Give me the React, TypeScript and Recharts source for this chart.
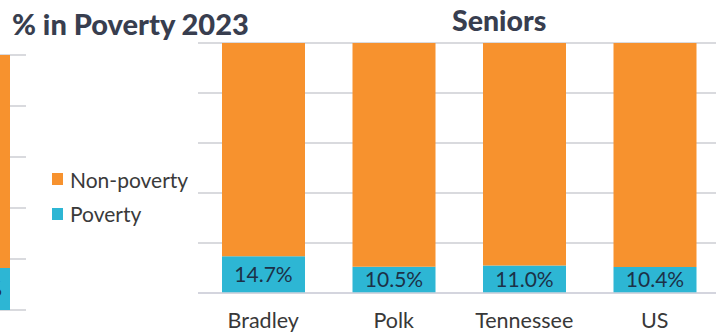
import React from "react";
import { BarChart, Bar, XAxis, YAxis, CartesianGrid, LabelList, Legend } from "recharts";

// Seniors panel
const places = ["Bradley", "Polk", "Tennessee", "US"];
const povertyPct = [14.7, 10.5, 11.0, 10.4];
const nonPovertyPct = [85.3, 89.5, 89.0, 89.6];
const pctTicks = [0, 20, 40, 60, 80, 100];
const legendOrder = ["Non-poverty", "Poverty"];

// neighbouring panel, only its right edge is in frame
const prevPlaces = ["US"];
const prevPovertyPct = [16.5];
const prevNonPovertyPct = [83.5];

const ORANGE = "#F7922E";
const TEAL = "#2DB6D4";
const GRID = "#cdced3";
const INK = "#383e4f";
const FONT = "Lato, 'Open Sans', sans-serif";

const seniorsData = places.map((place, i) => ({
  place,
  poverty: povertyPct[i],
  nonPoverty: nonPovertyPct[i],
}));

const prevData = prevPlaces.map((place, i) => ({
  place,
  poverty: prevPovertyPct[i],
  nonPoverty: prevNonPovertyPct[i],
}));

const fmtPct = (v: any) => `${Number(v).toFixed(1)}%`;

const LegendBox = (props: any) => {
  const items = [...(props.payload || [])].sort(
    (a: any, b: any) => legendOrder.indexOf(a.value) - legendOrder.indexOf(b.value)
  );
  return (
    <div style={{ fontFamily: FONT }}>
      {items.map((it: any) => (
        <div key={it.value} style={{ display: "flex", alignItems: "center", height: 34.5 }}>
          <span style={{ width: 11, height: 12, background: it.color, display: "inline-block", marginRight: 7 }} />
          <span style={{ fontSize: 21, color: "#3a3a3a", lineHeight: 1 }}>{it.value}</span>
        </div>
      ))}
    </div>
  );
};

export default function App() {
  return (
    <div
      style={{
        position: "fixed",
        left: 0,
        top: 0,
        width: 716,
        height: 335,
        overflow: "hidden",
        background: "#fff",
        fontFamily: FONT,
      }}
    >
      <div style={{ position: "absolute", left: -80, top: 0 }}>
        <BarChart width={106} height={335} data={prevData} margin={{ top: 55, right: 0, bottom: 25, left: 0 }} barCategoryGap={16}>
          <CartesianGrid vertical={false} stroke={GRID} strokeWidth={1.5} />
          <YAxis hide domain={[0, 100]} ticks={pctTicks} />
          <XAxis dataKey="place" hide />
          <Bar dataKey="poverty" stackId="a" fill={TEAL} isAnimationActive={false}>
            <LabelList dataKey="poverty" position="center" formatter={fmtPct} fill="#1c3148" fontSize={21} fontFamily={FONT} />
          </Bar>
          <Bar dataKey="nonPoverty" stackId="a" fill={ORANGE} isAnimationActive={false} />
        </BarChart>
      </div>

      <div style={{ position: "absolute", left: 0, top: 0 }}>
        <BarChart width={720} height={335} data={seniorsData} margin={{ top: 43, right: 0, bottom: 12, left: 198 }} barCategoryGap={24}>
          <CartesianGrid vertical={false} stroke={GRID} strokeWidth={1.5} />
          <YAxis hide domain={[0, 100]} ticks={pctTicks} />
          <XAxis
            dataKey="place"
            interval={0}
            tickLine={false}
            tickMargin={14}
            axisLine={{ stroke: "#d2d3de", strokeWidth: 1.5 }}
            tick={{ fontSize: 21.5, fill: "#383838", fontFamily: FONT }}
          />
          <Bar dataKey="poverty" name="Poverty" stackId="a" fill={TEAL} isAnimationActive={false}>
            <LabelList dataKey="poverty" position="center" formatter={fmtPct} fill="#1c3148" fontSize={21} fontFamily={FONT} />
          </Bar>
          <Bar dataKey="nonPoverty" name="Non-poverty" stackId="a" fill={ORANGE} isAnimationActive={false} />
          <Legend
            layout="vertical"
            align="center"
            verticalAlign="middle"
            content={LegendBox}
            wrapperStyle={{ left: 52, top: 162, width: 160 }}
          />
        </BarChart>
      </div>

      <div style={{ position: "absolute", left: 12, top: 9, fontSize: 29, fontWeight: 900, color: INK, lineHeight: 1, whiteSpace: "nowrap" }}>
        % in Poverty 2023
      </div>
      <div style={{ position: "absolute", left: 452, top: 6, fontSize: 28.5, fontWeight: 900, color: INK, lineHeight: 1, whiteSpace: "nowrap" }}>
        Seniors
      </div>
    </div>
  );
}
